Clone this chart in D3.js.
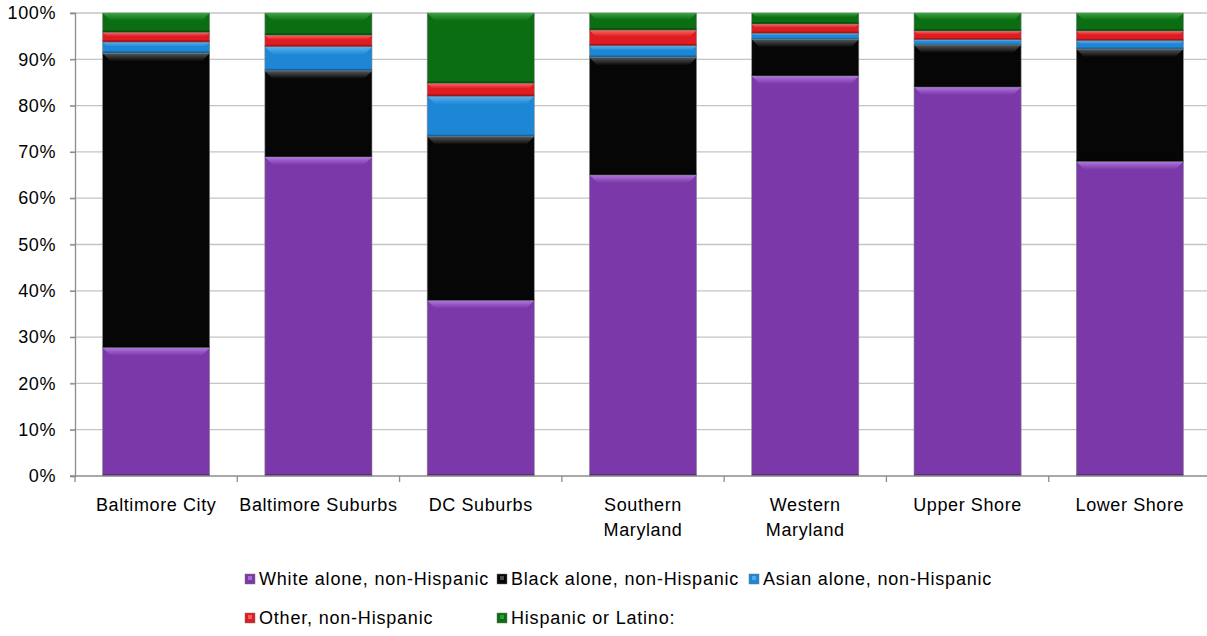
<!DOCTYPE html>
<html>
<head>
<meta charset="utf-8">
<script src="https://cdn.jsdelivr.net/npm/d3@7"></script>
<style>
  html, body { margin: 0; padding: 0; background: #fff; }
  svg { display: block; font-family: "Liberation Sans", Arial, sans-serif; }
</style>
</head>
<body>
<svg id="chart" width="1207" height="636"></svg>
<script>
const categories = ["Baltimore City", "Baltimore Suburbs", "DC Suburbs", "Southern Maryland", "Western Maryland", "Upper Shore", "Lower Shore"];
const categoryLines = [["Baltimore City"], ["Baltimore Suburbs"], ["DC Suburbs"], ["Southern", "Maryland"], ["Western", "Maryland"], ["Upper Shore"], ["Lower Shore"]];
const seriesNames = ["White alone, non-Hispanic", "Black alone, non-Hispanic", "Asian alone, non-Hispanic", "Other, non-Hispanic", "Hispanic or Latino:"];
const white    = [27.7, 68.9, 37.9, 65.0, 86.4, 84.0, 67.9];
const black    = [63.6, 18.6, 35.4, 25.4,  7.9,  9.1, 24.3];
const asian    = [ 2.4,  5.2,  8.7,  2.5,  1.3,  1.1,  1.8];
const other    = [ 2.1,  2.5,  2.8,  3.4,  2.0,  1.9,  2.1];
const hispanic = [ 4.2,  4.8, 15.2,  3.7,  2.4,  3.9,  3.9];
const yTicks = [0, 10, 20, 30, 40, 50, 60, 70, 80, 90, 100];

const colors = ["#7a38a8", "#060606", "#1d87d6", "#de1c22", "#0b6e12"];
const highlights = ["#b27ae0", "#5a5a5a", "#5ab4f2", "#ff6a6a", "#3aa842"];

const svg = d3.select("#chart");
const x = d3.scaleBand().domain(categories).range([75, 1211]).paddingInner(0.34).paddingOuter(0.17);
const y = d3.scaleLinear().domain([0, 100]).range([476, 13]);

// gridlines
svg.append("g").selectAll("line").data(yTicks.filter(d => d > 0)).join("line")
  .attr("x1", 70).attr("x2", 1207)
  .attr("y1", d => y(d)).attr("y2", d => y(d))
  .attr("stroke", "#c4c4c4").attr("stroke-width", 1.3);

// y axis
const yAxis = svg.append("g").attr("transform", "translate(75,0)")
  .call(d3.axisLeft(y).tickValues(yTicks).tickSize(5).tickFormat(d => d + "%"));
yAxis.select(".domain").attr("stroke", "#8c8c8c").attr("stroke-width", 1.3);
yAxis.selectAll(".tick line").attr("stroke", "#8c8c8c").attr("stroke-width", 1.3);
yAxis.selectAll("text").attr("font-size", 18).attr("fill", "#000").attr("x", -19)
  .attr("letter-spacing", 0.6)
  .attr("font-family", "Liberation Sans, Arial, sans-serif");

// stacks
const data = categories.map((c, i) => ({ cat: c, v: [white[i], black[i], asian[i], other[i], hispanic[i]] }));
const defs = svg.append("defs");
colors.forEach((c, k) => {
  const g = defs.append("linearGradient").attr("id", "g" + k).attr("x1", 0).attr("x2", 0).attr("y1", 0).attr("y2", 1);
  g.append("stop").attr("offset", 0).attr("stop-color", highlights[k]);
  g.append("stop").attr("offset", 1).attr("stop-color", c);
});

const stack = d3.stack().keys([0, 1, 2, 3, 4]).value((d, k) => d.v[k]);
const layers = stack(data);
const bars = svg.append("g");
layers.forEach((layer, k) => {
  const g = bars.append("g");
  layer.forEach(seg => {
    const x0 = x(seg.data.cat), w = x.bandwidth();
    const yt = y(seg[1]), yb = y(seg[0]);
    const h = yb - yt;
    g.append("rect").attr("x", x0).attr("y", yt).attr("width", w).attr("height", h)
      .attr("fill", colors[k]).attr("stroke", "#8a8a8a").attr("stroke-width", 0.6);
    const hh = Math.min(8, h * 0.4);
    g.append("path")
      .attr("d", `M${x0},${yt} L${x0 + w},${yt} L${x0 + w - hh},${yt + hh} L${x0 + hh},${yt + hh} Z`)
      .attr("fill", "url(#g" + k + ")").attr("opacity", 0.95);
    g.append("rect").attr("x", x0).attr("y", yb - Math.min(2, h * 0.2)).attr("width", w)
      .attr("height", Math.min(2, h * 0.2)).attr("fill", "#000").attr("opacity", 0.25);
  });
});

// x axis
svg.append("line").attr("x1", 70).attr("x2", 1207).attr("y1", y(0)).attr("y2", y(0))
  .attr("stroke", "#8c8c8c").attr("stroke-width", 1.3);
svg.append("g").selectAll("line").data(d3.range(categories.length + 1)).join("line")
  .attr("x1", i => 75 + i * x.step()).attr("x2", i => 75 + i * x.step())
  .attr("y1", y(0)).attr("y2", y(0) + 6)
  .attr("stroke", "#8c8c8c").attr("stroke-width", 1.3);

const labels = svg.append("g");
categories.forEach((c, i) => {
  const t = labels.append("text").attr("text-anchor", "middle").attr("font-size", 18)
    .attr("letter-spacing", 0.6).attr("fill", "#000");
  categoryLines[i].forEach((ln, j) => {
    t.append("tspan").attr("x", x(c) + x.bandwidth() / 2).attr("y", 511 + j * 25).text(ln);
  });
});

// legend
const legendPos = [[245, 579], [497, 579], [749, 579], [245, 618], [497, 618]];
const legend = svg.append("g");
seriesNames.forEach((name, k) => {
  const [lx, ly] = legendPos[k];
  legend.append("rect").attr("x", lx).attr("y", ly - 5).attr("width", 10).attr("height", 10)
    .attr("fill", colors[k]).attr("stroke", "#777").attr("stroke-width", 0.5);
  legend.append("rect").attr("x", lx + 3).attr("y", ly - 3).attr("width", 4).attr("height", 4)
    .attr("fill", highlights[k]).attr("opacity", 0.8);
  legend.append("text").attr("x", lx + 14).attr("y", ly).attr("dy", "0.35em")
    .attr("font-size", 18).attr("letter-spacing", 0.8).attr("fill", "#000").text(name);
});
</script>
</body>
</html>
